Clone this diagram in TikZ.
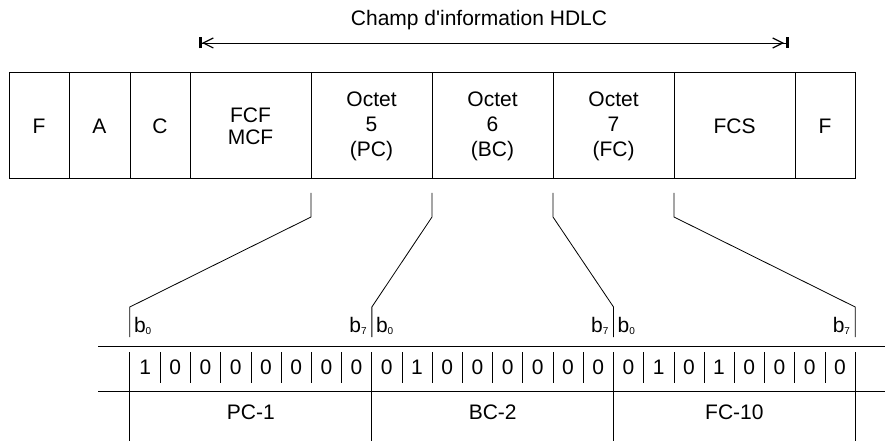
\documentclass[tikz,border=0pt]{standalone}
\usepackage{fontspec}
\setmainfont{Liberation Sans}
\usetikzlibrary{arrows.meta,positioning}

\newcommand{\bsub}[1]{b\raisebox{-2.5pt}{\fontsize{10}{10}\selectfont #1}}

\begin{document}
\begin{tikzpicture}[
  x=1pt, y=-1pt,
  font=\fontsize{21}{25}\selectfont,
  field/.style={draw, line width=1pt, minimum height=106pt, minimum width=121pt, inner sep=0pt, outer sep=0pt, align=center},
  narrow/.style={field, minimum width=60pt},
  bitval/.style={minimum width=30.2pt, inner sep=0pt},
  lbl/.style={inner sep=0pt},
  lead/.style={line width=0.8pt},
  rule/.style={line width=0.9pt},
  span/.style={line width=0.9pt, {Bar[width=11pt,line width=3pt,sep=2pt]Straight Barb[length=10pt,width=10pt,line width=1.2pt]}-{Straight Barb[length=10pt,width=10pt,line width=1.2pt,sep=2pt]Bar[width=11pt,line width=3pt]}}
]
  \useasboundingbox (0,0) rectangle (885,443);

  % HDLC frame
  \node[narrow] at (39,126) (flag1) {F};
  \node[narrow, minimum width=61pt, right=0pt of flag1] (addr) {A};
  \node[narrow, right=0pt of addr] (ctl) {C};
  \node[field, right=0pt of ctl] (fcf) {FCF\\[-3pt]MCF};
  \node[field, right=0pt of fcf] (pc) {Octet\\5\\(PC)};
  \node[field, right=0pt of pc] (bc) {Octet\\6\\(BC)};
  \node[field, right=0pt of bc] (fc) {Octet\\7\\(FC)};
  \node[field, right=0pt of fc] (fcs) {FCS};
  \node[narrow, right=0pt of fcs] (flag2) {F};

  % information field span
  \node (title) at (479,20) {Champ d\textquotesingle information HDLC};
  \path (fcf.north west) ++(7,-30) coordinate (infoL);
  \path (fcs.north east) ++(-6,-30) coordinate (infoR);
  \draw[span] (infoL) -- (infoR);

  % bit row
  \foreach \v [count=\i from 0] in {1,0,0,0,0,0,0,0, 0,1,0,0,0,0,0,0, 0,1,0,1,0,0,0,0}
    \node[bitval] (bit\i) at ({130+30.208*(\i+0.5)},367) {\v};
  \coordinate (g0) at (bit0.west |- 0,352);
  \coordinate (g1) at (bit7.east |- 0,352);
  \coordinate (g2) at (bit15.east |- 0,352);
  \coordinate (g3) at (bit23.east |- 0,352);

  \draw[rule] (98,346) -- (885,346);
  \draw[rule] (98,391) -- (885,391);
  \foreach \g in {g0,g1,g2,g3}
    \draw[rule] (\g) -- (\g |- 0,441);
  \foreach \s in {0,8,16}
    \foreach \k in {0,...,6} {
      \pgfmathtruncatemacro\j{\s+\k}
      \draw[rule] (bit\j.east |- 0,352) -- (bit\j.east |- 0,383);
    }

  % leaders from the octets to the bits
  \draw[lead] ([yshift=-14pt]pc.south west) -- ([yshift=-38pt]pc.south west) -- ([yshift=45pt]g0) -- ([yshift=15pt]g0);
  \draw[lead] ([yshift=-14pt]bc.south west) -- ([yshift=-38pt]bc.south west) -- ([yshift=45pt]g1) -- ([yshift=15pt]g1);
  \draw[lead] ([yshift=-14pt]fc.south west) -- ([yshift=-38pt]fc.south west) -- ([yshift=45pt]g2) -- ([yshift=15pt]g2);
  \draw[lead] ([yshift=-14pt]fcs.south west) -- ([yshift=-38pt]fcs.south west) -- ([yshift=45pt]g3) -- ([yshift=15pt]g3);

  % bit numbers
  \path (g0) ++(4,-20) node[lbl, anchor=base west] (pcb0) {\bsub{0}};
  \path (g1) ++(-5,-20) node[lbl, anchor=base east] (pcb7) {\bsub{7}};
  \path (g1) ++(4,-20) node[lbl, anchor=base west] (bcb0) {\bsub{0}};
  \path (g2) ++(-5,-20) node[lbl, anchor=base east] (bcb7) {\bsub{7}};
  \path (g2) ++(4,-20) node[lbl, anchor=base west] (fcb0) {\bsub{0}};
  \path (g3) ++(-5,-20) node[lbl, anchor=base east] (fcb7) {\bsub{7}};

  % decoded values
  \path (g0) -- (g1) node[midway, yshift=-60pt] (pcval) {PC-1};
  \path (g1) -- (g2) node[midway, yshift=-60pt] (bcval) {BC-2};
  \path (g2) -- (g3) node[midway, yshift=-60pt] (fcval) {FC-10};
\end{tikzpicture}
\end{document}
